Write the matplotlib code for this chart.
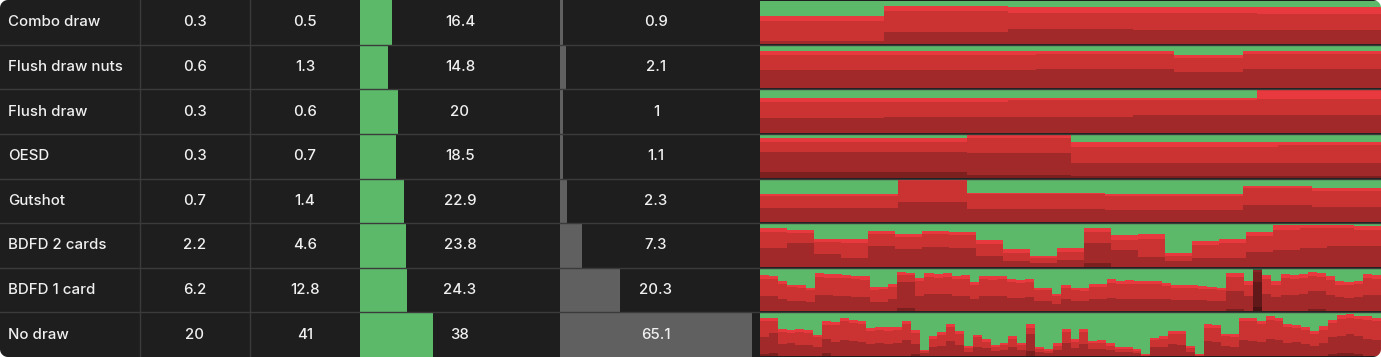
import matplotlib
matplotlib.use("Agg")
import matplotlib.pyplot as plt
import numpy as np
from matplotlib.patches import Polygon

plt.rcParams['font.family'] = ['Inter', 'DejaVu Sans']

# ---- table data ----
labels = ['Combo draw', 'Flush draw nuts', 'Flush draw', 'OESD', 'Gutshot',
          'BDFD 2 cards', 'BDFD 1 card', 'No draw']
combos_pct = [0.3, 0.6, 0.3, 0.3, 0.7, 2.2, 6.2, 20]
range_pct = [0.5, 1.3, 0.6, 0.7, 1.4, 4.6, 12.8, 41]
equity = [16.4, 14.8, 20, 18.5, 22.9, 23.8, 24.3, 38]
freq = [0.9, 2.1, 1, 1.1, 2.3, 7.3, 20.3, 65.1]

# ---- strategy per combo (percent of each combo), one list per row ----
strat_green = [
    [36, 12, 15, 15, 15],
    [13, 13, 13, 13, 13, 13, 21, 13, 13],
    [19, 19, 19, 19, 0],
    [8, 8, 0, 17, 17, 17],
    [35, 35, 0, 31, 31, 34, 34, 15, 21],
    [9, 13, 34, 36, 15, 23, 15, 18, 38, 59, 75, 57, 9, 25, 23, 67, 40, 36, 18, 2, 2, 2, 5],
    [15, 16, 29, 37, 38, 45, 11, 12, 13, 14, 17, 18, 43, 42, 35, 8, 9, 21, 11, 12,
     10, 16, 15, 31, 17, 18, 16, 25, 26, 23, 45, 44, 59, 39, 45, 46, 35, 36, 25, 28,
     27, 28, 29, 28, 33, 37, 38, 39, 40, 42, 44, 9, 10, 29, 2, 15, 29, 13, 14, 12,
     8, 9, 17, 29, 30, 28, 13, 14],
    [10, 11, 37, 39, 36, 38, 50, 19, 20, 11, 15, 17, 35, 32, 33, 33, 17, 39, 85, 54,
     44, 24, 42, 76, 50, 59, 74, 69, 52, 70, 26, 78, 84, 70, 37, 60, 37, 64, 63, 70,
     78, 79, 84, 96, 57, 54, 41, 42, 76, 96, 26, 27, 48, 49, 10, 11, 17, 7, 10, 26,
     27, 33, 41, 30, 15, 4, 2, 5, 6, 11],
]
strat_bright = [
    [11, 12, 13, 14, 15],
    [8, 8, 8, 8, 7, 6, 8, 7, 7],
    [9, 8, 5, 5, 21],
    [8, 8, 8, 12, 12, 6],
    [4, 4, 4, 4, 4, 4, 4, 4, 5],
    [9, 8, 8, 8, 9, 8, 8, 8, 8, 8, 4, 8, 9, 12, 13, 8, 8, 8, 10, 12, 8, 8, 8],
    [8, 8, 7, 6, 6, 5, 9, 9, 8, 8, 8, 8, 6, 6, 7, 6, 6, 8, 9, 9,
     9, 8, 8, 7, 8, 8, 8, 7, 7, 7, 6, 6, 5, 6, 6, 6, 7, 7, 8, 8,
     8, 8, 7, 8, 7, 7, 7, 7, 7, 6, 6, 10, 10, 8, 6, 9, 8, 9, 9, 9,
     10, 10, 9, 8, 8, 8, 9, 9],
    [8, 8, 7, 6, 8, 7, 6, 8, 7, 8, 7, 8, 6, 7, 8, 7, 8, 6, 4, 7,
     6, 8, 7, 5, 6, 7, 5, 6, 7, 5, 8, 5, 4, 6, 7, 6, 7, 5, 6, 6,
     5, 5, 4, 2, 6, 7, 7, 6, 5, 2, 8, 7, 6, 7, 8, 8, 7, 8, 8, 7,
     7, 6, 7, 8, 8, 9, 8, 8, 9, 8],
]
strat_dark = [
    [5, 28, 35, 33, 31],
    [42, 42, 42, 42, 45, 44, 39, 44, 44],
    [36, 38, 37, 41, 41],
    [47, 47, 51, 29, 29, 32],
    [32, 32, 48, 31, 31, 28, 28, 41, 36],
    [45, 56, 29, 21, 49, 41, 46, 45, 26, 14, 9, 17, 48, 40, 22, 14, 21, 21, 34, 40, 44, 48, 49],
    [35, 35, 30, 25, 25, 22, 38, 38, 36, 36, 34, 34, 22, 22, 28, 60, 62, 36, 40, 40,
     40, 36, 36, 30, 35, 35, 35, 32, 32, 33, 25, 25, 18, 28, 25, 25, 30, 30, 32, 30,
     30, 30, 30, 30, 28, 27, 27, 26, 26, 25, 25, 42, 42, 35, 60, 40, 34, 38, 38, 40,
     42, 42, 38, 33, 32, 33, 38, 38],
    [40, 45, 28, 30, 26, 25, 22, 35, 33, 38, 36, 34, 28, 30, 27, 30, 38, 25, 6, 20,
     24, 36, 25, 10, 22, 18, 11, 14, 20, 13, 40, 10, 8, 13, 30, 18, 28, 16, 17, 14,
     10, 10, 8, 1, 20, 22, 28, 26, 10, 1, 35, 33, 24, 22, 38, 36, 34, 40, 38, 30,
     32, 28, 24, 30, 40, 42, 45, 42, 40, 38],
]
strat_darkest = [
    [0, 0, 0, 0, 0],
    [0] * 9,
    [0] * 5,
    [12, 12, 7, 4, 4, 3],
    [0] * 9,
    [0] * 12 + [8] + [0] * 10,
    [0] * 15 + [8, 8] + [0] * 34 + [6, 6, 0, 10] + [0] * 5 + [5, 5] + [0] * 6,
    [5, 8, 0, 0, 0, 0, 0, 6, 0, 0, 0, 0, 0, 0, 0, 0, 0, 4, 0, 0,
     0, 0, 0, 0, 0, 0, 0, 0, 0, 0, 12, 0, 0, 0, 0, 0, 0, 0, 0, 0,
     0, 0, 0, 0, 0, 0, 0, 0, 0, 0, 0, 0, 0, 0, 0, 0, 0, 0, 0, 0,
     0, 0, 0, 0, 5, 6, 6, 5, 0, 0],
]
highlight = (6, 54)  # (row, combo) shown dimmed

# ---- styling ----
W, H = 1381, 357
bg = '#1e1e1e'
line_c = '#3b3b3b'
txt_c = '#f0f0f0'
green = '#5cb96a'
gray = '#606060'
layer_colors = ['#7c1f1f', '#a1292a', '#cb3232', '#e8393e', green]
col_edges = [0, 140, 250, 360, 560, 760, W]
n_rows = len(labels)
row_h = H / n_rows
fs = 10.8

fig = plt.figure(figsize=(W / 100, H / 100), dpi=100)
fig.patch.set_facecolor('white')

base = fig.add_axes([0, 0, 1, 1])
base.set_xlim(0, W)
base.set_ylim(H, 0)
base.axis('off')
base.add_patch(plt.Rectangle((0, 0), W, H, color=bg, zorder=0))

# equity bars
ax_eq = fig.add_axes([col_edges[3] / W, 0, 200 / W, 1])
ax_eq.barh(range(n_rows), equity, height=1.0, color=green, linewidth=0)
ax_eq.set_xlim(0, 104)
ax_eq.set_ylim(n_rows - 0.5, -0.5)
ax_eq.axis('off')

# frequency bars (scaled to the max)
ax_fr = fig.add_axes([col_edges[4] / W, 0, 200 / W, 1])
ax_fr.barh(range(n_rows), freq, height=1.0, color=gray, linewidth=0)
ax_fr.set_xlim(0, max(freq) * 200 / 192)
ax_fr.set_ylim(n_rows - 0.5, -0.5)
ax_fr.axis('off')

# strategy cells
sx0 = col_edges[5]
for i in range(n_rows):
    g = np.array(strat_green[i], float)
    b = np.array(strat_bright[i], float)
    d = np.array(strat_dark[i], float)
    dd = np.array(strat_darkest[i], float)
    m = np.clip(100 - g - b - d - dd, 0, None)
    layers = [dd, d, m, b, g]
    n = len(g)
    x = np.arange(n)
    top = (i + 1) * row_h - 1
    ax = fig.add_axes([sx0 / W, 1 - top / H, (W - sx0) / W, (row_h - 2) / H])
    bottom = np.zeros(n)
    for vals, c in zip(layers, layer_colors):
        ax.bar(x, vals, width=1.0, bottom=bottom, color=c, linewidth=0, antialiased=False)
        bottom += vals
    if highlight[0] == i:
        ax.bar(highlight[1], 100, width=1.0, color='black', alpha=0.4, linewidth=0)
    ax.set_xlim(-0.5, n - 0.5)
    ax.set_ylim(0, 100)
    ax.axis('off')

# overlay: grid lines, text, rounded corners
top_ax = fig.add_axes([0, 0, 1, 1])
top_ax.set_xlim(0, W)
top_ax.set_ylim(H, 0)
top_ax.patch.set_alpha(0)
top_ax.axis('off')

for i in range(1, n_rows):
    top_ax.plot([0, W], [i * row_h, i * row_h], color=line_c, lw=1.0)
for xe in col_edges[1:3]:
    top_ax.plot([xe, xe], [0, H], color=line_c, lw=1.0)

centers = [195, 305, 460, 656]
for i in range(n_rows):
    y = (i + 0.5) * row_h
    top_ax.text(8, y, labels[i], color=txt_c, fontsize=fs, fontweight=500,
                va='center', ha='left')
    for cx, col in zip(centers, [combos_pct, range_pct, equity, freq]):
        top_ax.text(cx, y, f"{col[i]:g}", color=txt_c, fontsize=fs, fontweight=500,
                    va='center', ha='center')

r = 8
t = np.linspace(0, np.pi / 2, 20)
for cx, cy, sx, sy in [(0, 0, 1, 1), (W, 0, -1, 1), (0, H, 1, -1), (W, H, -1, -1)]:
    ccx, ccy = cx + sx * r, cy + sy * r
    pts = [(cx, cy)] + [(ccx - sx * r * np.sin(a), ccy - sy * r * np.cos(a)) for a in t]
    top_ax.add_patch(Polygon(pts, closed=True, color='white', lw=0))

fig.savefig('out.png', dpi=100, facecolor='white')
